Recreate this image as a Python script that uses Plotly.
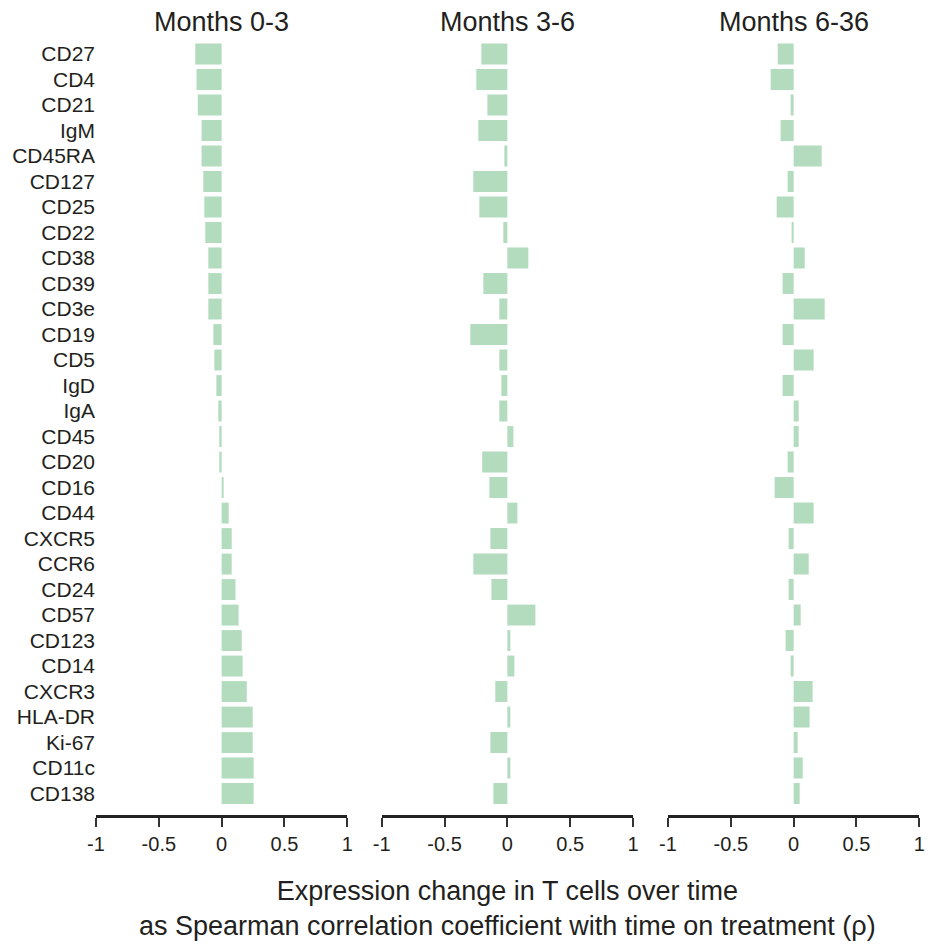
import plotly.graph_objects as go

# Markers, ordered top to bottom
markers = ["CD27", "CD4", "CD21", "IgM", "CD45RA", "CD127", "CD25", "CD22", "CD38",
           "CD39", "CD3e", "CD19", "CD5", "IgD", "IgA", "CD45", "CD20", "CD16",
           "CD44", "CXCR5", "CCR6", "CD24", "CD57", "CD123", "CD14", "CXCR3",
           "HLA-DR", "Ki-67", "CD11c", "CD138"]

# Spearman rho per marker, per treatment window
rho_0_3 = [-0.21, -0.20, -0.19, -0.16, -0.16, -0.146, -0.138, -0.13, -0.106,
           -0.106, -0.106, -0.066, -0.058, -0.042, -0.027, -0.019, -0.019, 0.016,
           0.056, 0.08, 0.08, 0.11, 0.135, 0.16, 0.167, 0.2,
           0.247, 0.247, 0.255, 0.255]
rho_3_6 = [-0.207, -0.247, -0.159, -0.231, -0.024, -0.271, -0.223, -0.032, 0.167,
           -0.191, -0.064, -0.295, -0.064, -0.048, -0.064, 0.048, -0.2, -0.143,
           0.08, -0.135, -0.271, -0.127, 0.223, 0.024, 0.056, -0.096,
           0.024, -0.135, 0.024, -0.111]
rho_6_36 = [-0.127, -0.183, -0.024, -0.104, 0.223, -0.048, -0.135, -0.016, 0.088,
            -0.088, 0.247, -0.088, 0.159, -0.088, 0.04, 0.04, -0.048, -0.151,
            0.159, -0.04, 0.12, -0.04, 0.056, -0.064, -0.024, 0.151,
            0.127, 0.032, 0.072, 0.048]

panel_titles = ["Months 0-3", "Months 3-6", "Months 6-36"]
x_ticks = [-1, -0.5, 0, 0.5, 1]
x_tick_text = ["-1", "-0.5", "0", "0.5", "1"]
axis_title = ("Expression change in T cells over time<br>"
              "as Spearman correlation coefficient with time on treatment (ρ)")

W, H = 927, 944
FONT = "Liberation Sans, Arial, Helvetica, sans-serif"
TEXT = "#231f20"
BAR = "#b3dcbf"

x_domains_px = [(96, 347.3), (381.7, 633), (668, 919.3)]
y_dom = [1 - 815 / H, 1 - 41.25 / H]

fig = go.Figure()
series = [rho_0_3, rho_3_6, rho_6_36]
for i, vals in enumerate(series):
    sfx = "" if i == 0 else str(i + 1)
    fig.add_trace(go.Bar(
        x=vals, y=markers, orientation="h",
        marker=dict(color=BAR, line=dict(width=0)),
        width=0.82,
        xaxis="x" + sfx, yaxis="y" + sfx,
        showlegend=False,
    ))
    d0, d1 = x_domains_px[i]
    fig.layout["xaxis" + sfx] = dict(
        domain=[d0 / W, d1 / W], range=[-1, 1], anchor="y" + sfx,
        tickmode="array", tickvals=x_ticks, ticktext=x_tick_text,
        ticks="outside", ticklen=9, tickwidth=1.5, tickcolor="#333333",
        showline=True, linewidth=2.5, linecolor="#222222",
        showgrid=False, zeroline=False,
        tickfont=dict(family=FONT, size=20, color=TEXT),
        automargin=False, fixedrange=True,
    )
    fig.layout["yaxis" + sfx] = dict(
        domain=y_dom, anchor="x" + sfx,
        type="category", categoryorder="array", categoryarray=markers,
        range=[29.84, -0.5],
        showticklabels=(i == 0), ticks="",
        showline=False, showgrid=False, zeroline=False,
        tickfont=dict(family=FONT, size=21, color=TEXT),
        automargin=False, fixedrange=True,
    )
    fig.add_annotation(
        x=(d0 + d1) / 2 / W, y=1 - 22 / H, xref="paper", yref="paper",
        text=panel_titles[i], showarrow=False,
        xanchor="center", yanchor="middle",
        font=dict(family=FONT, size=27, color=TEXT),
    )

fig.add_annotation(
    x=507.5 / W, y=1 - 908 / H, xref="paper", yref="paper",
    text=axis_title, showarrow=False, xanchor="center", yanchor="middle",
    align="center", font=dict(family=FONT, size=27, color=TEXT),
)

fig.update_layout(
    width=W, height=H,
    margin=dict(l=0, r=0, t=0, b=0, autoexpand=False),
    paper_bgcolor="white", plot_bgcolor="white",
    bargap=0.18,
)

fig.write_html("out.html")
